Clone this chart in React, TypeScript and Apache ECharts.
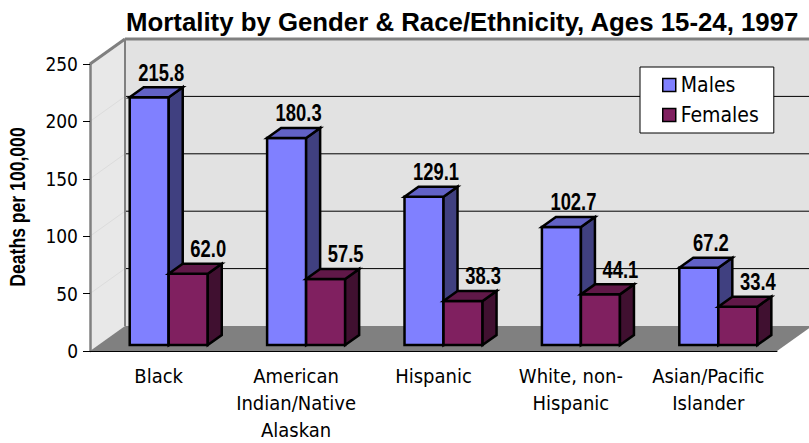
import React, { useEffect, useRef } from "react";
import * as echarts from "echarts";

const title = "Mortality by Gender & Race/Ethnicity, Ages 15-24, 1997";
const categories = [
  "Black",
  "American\nIndian/Native\nAlaskan",
  "Hispanic",
  "White, non-\nHispanic",
  "Asian/Pacific\nIslander",
];
const seriesNames = ["Males", "Females"];
const males = [215.8, 180.3, 129.1, 102.7, 67.2];
const females = [62.0, 57.5, 38.3, 44.1, 33.4];
const yTicks = [0, 50, 100, 150, 200, 250];
const yAxisName = "Deaths per 100,000";

const COLORS = {
  Males: { front: "#8080ff", top: "#6262c6", side: "#404080" },
  Females: { front: "#802060", top: "#601848", side: "#401030" },
};

const DEPTH_X = 35;
const DEPTH_Y = -25;
const BOLD_FONT = "'Liberation Sans', Arial, sans-serif";
const TEXT_FONT = "'DejaVu Sans Condensed', 'DejaVu Sans', sans-serif";
const NARROW = 0.8;

function wallsRender(params: any, api: any) {
  const cs = params.coordSys;
  const gx = cs.x, gy = cs.y, gw = cs.width, gh = cs.height;
  const gb = gy + gh;
  const dX = DEPTH_X, dY = DEPTH_Y;
  const children: any[] = [];
  children.push({
    type: "polygon",
    shape: { points: [[gx + dX, gy + dY], [gx + gw + dX + 10, gy + dY], [gx + gw + dX + 10, gb + dY], [gx + dX, gb + dY]] },
    style: { fill: "#e2e2e2" },
  });
  children.push({
    type: "polygon",
    shape: { points: [[gx, gb], [gx, gy], [gx + dX, gy + dY], [gx + dX, gb + dY]] },
    style: { fill: "#e8e8e8" },
  });
  children.push({
    type: "polygon",
    shape: { points: [[gx, gb], [gx + gw, gb], [gx + gw + dX, gb + dY], [gx + dX, gb + dY]] },
    style: { fill: "#808080" },
  });
  yTicks.forEach((v) => {
    if (v === yTicks[0] || v === yTicks[yTicks.length - 1]) return;
    const y = api.coord([0, v])[1];
    children.push({
      type: "line",
      shape: { x1: gx + dX, y1: y + dY, x2: gx + gw + dX + 10, y2: y + dY },
      style: { stroke: "#000", lineWidth: 1 },
    });
    children.push({
      type: "line",
      shape: { x1: gx, y1: y, x2: gx + dX, y2: y + dY },
      style: { stroke: "#dcdcdc", lineWidth: 1 },
    });
  });
  children.push({
    type: "line",
    shape: { x1: gx + dX, y1: gy + dY, x2: gx + gw + dX + 10, y2: gy + dY },
    style: { stroke: "#808080", lineWidth: 3 },
  });
  children.push({
    type: "line",
    shape: { x1: gx + dX, y1: gy + dY, x2: gx + dX, y2: gb + dY },
    style: { stroke: "#808080", lineWidth: 2 },
  });
  children.push({
    type: "line",
    shape: { x1: gx, y1: gy, x2: gx + dX, y2: gy + dY },
    style: { stroke: "#808080", lineWidth: 3 },
  });
  return { type: "group", children };
}

function makeBarRender(sIdx: number) {
  const name = seriesNames[sIdx] as "Males" | "Females";
  const col = COLORS[name];
  return (params: any, api: any) => {
    const ci = api.value(0);
    const v = api.value(1);
    const base = api.coord([ci, 0]);
    const topP = api.coord([ci, v]);
    const band = api.size([1, 0])[0];
    const w = band * 0.284;
    const pairC = base[0] + band * 0.073;
    const x0 = sIdx === 0 ? pairC - w : pairC;
    const x1 = x0 + w;
    const yb = base[1] - 6;
    const yt = topP[1] - 6;
    const dx = 14, dy = -10;
    const stroke = { stroke: "#000", lineWidth: 2.5, lineJoin: "miter" };
    return {
      type: "group",
      children: [
        { type: "polygon", shape: { points: [[x0, yb], [x1, yb], [x1, yt], [x0, yt]] }, style: { fill: col.front, ...stroke } },
        { type: "polygon", shape: { points: [[x1, yb], [x1 + dx, yb + dy], [x1 + dx, yt + dy], [x1, yt]] }, style: { fill: col.side, ...stroke } },
        { type: "polygon", shape: { points: [[x0, yt], [x1, yt], [x1 + dx, yt + dy], [x0 + dx, yt + dy]] }, style: { fill: col.top, ...stroke } },
        {
          type: "text",
          x: x0 + w / 2 + (sIdx === 0 ? 12 : 20),
          y: yt - 25,
          scaleX: NARROW,
          style: {
            text: v.toFixed(1),
            fill: "#000",
            font: `bold 23px ${BOLD_FONT}`,
            align: "center",
            verticalAlign: "middle",
          },
        },
      ],
    };
  };
}

export default function App() {
  const ref = useRef<HTMLDivElement>(null);
  useEffect(() => {
    if (!ref.current) return;
    const chart = echarts.init(ref.current, null, { renderer: "svg" });
    const option: any = {
      animation: false,
      backgroundColor: "#fff",
      title: {
        text: title,
        left: 121,
        top: 4,
        textStyle: { fontFamily: BOLD_FONT, fontWeight: "bold", fontSize: 25.8, color: "#000" },
      },
      graphic: [
        {
          type: "text",
          x: 17,
          y: 207,
          rotation: Math.PI / 2,
          scaleX: NARROW,
          z: 10,
          style: {
            text: yAxisName,
            fill: "#000",
            font: `bold 22px ${BOLD_FONT}`,
            align: "center",
            verticalAlign: "middle",
          },
        },
      ],
      legend: {
        orient: "vertical",
        left: 640,
        top: 67,
        data: seriesNames.map((n) => ({
          name: n,
          icon: "rect",
          itemStyle: { color: COLORS[n as "Males" | "Females"].front, borderColor: "#000", borderWidth: 1.5 },
        })),
        itemWidth: 13,
        itemHeight: 13,
        itemGap: 6,
        padding: [6, 15, 6, 22],
        backgroundColor: "#fff",
        borderColor: "#000",
        borderWidth: 1,
        borderRadius: 0,
        textStyle: { fontFamily: TEXT_FONT, fontSize: 21, color: "#000", lineHeight: 24 },
      },
      grid: { left: 90, right: 32, top: 64, bottom: 90 },
      xAxis: {
        type: "category",
        data: categories,
        z: 5,
        axisLine: { lineStyle: { color: "#000", width: 1 } },
        axisTick: { length: 7, lineStyle: { color: "#000" } },
        axisLabel: { interval: 0, margin: 11, fontFamily: TEXT_FONT, fontSize: 20, lineHeight: 27, color: "#000" },
        splitLine: { show: false },
      },
      yAxis: {
        type: "value",
        min: 0,
        max: 250,
        interval: 50,
        z: 5,
        axisLine: { show: true, lineStyle: { color: "#808080", width: 2.5 } },
        axisTick: { show: true, length: 7, lineStyle: { color: "#000" } },
        axisLabel: { margin: 12, fontFamily: TEXT_FONT, fontSize: 19, color: "#000" },
        splitLine: { show: false },
      },
      series: [
        { type: "custom", name: "__walls", renderItem: wallsRender, data: [[0, 0]], z: 1, silent: true },
        {
          type: "custom",
          name: seriesNames[0],
          renderItem: makeBarRender(0),
          data: males.map((v, i) => [i, v]),
          itemStyle: { color: COLORS.Males.front },
          z: 2,
        },
        {
          type: "custom",
          name: seriesNames[1],
          renderItem: makeBarRender(1),
          data: females.map((v, i) => [i, v]),
          itemStyle: { color: COLORS.Females.front },
          z: 3,
        },
      ],
    };
    chart.setOption(option);
    return () => chart.dispose();
  }, []);
  return <div ref={ref} style={{ position: "fixed", left: 0, top: 0, width: 809, height: 443 }} />;
}
